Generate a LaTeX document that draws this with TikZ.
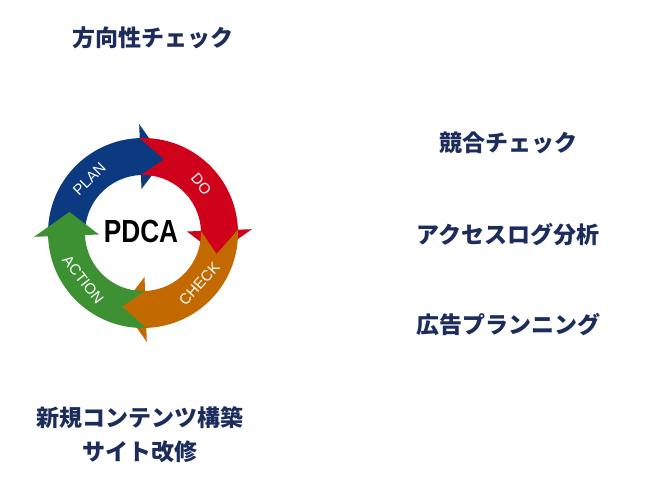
\documentclass[tikz,border=0pt]{standalone}
\usepackage{fontspec}
\setsansfont{Liberation Sans}
\newfontfamily\cjk{Noto Sans CJK JP}
\usetikzlibrary{positioning}
\definecolor{navy}{HTML}{1C2D5C}
\definecolor{planblue}{HTML}{0B3A80}
\definecolor{dored}{HTML}{D0021B}
\definecolor{checkorange}{HTML}{C26A00}
\definecolor{actgreen}{HTML}{3D9132}
% one arrow of the cycle: #1 colour, #2 start angle, #3 head angle
\newcommand{\cyclearrow}[3]{%
  \fill[#1] (#2:95) arc[start angle=#2, end angle=#3, radius=95]
    -- (#3:109) -- ({#3-18}:76.5) -- (#3:44) -- (#3:58)
    arc[start angle=#3, end angle=#2, radius=58] -- ({#2-18}:76.5) -- cycle;}
\begin{document}
\begin{tikzpicture}[
  x=1pt, y=1pt,
  topic/.style={font=\cjk\bfseries\fontsize{23}{34}\selectfont, text=navy, align=center},
  phase/.style={font=\sffamily\fontsize{15}{17}\selectfont, text=white, inner sep=0pt}
]
  \useasboundingbox (0,0) rectangle (648,478);
  %--- cycle
  \begin{scope}[shift={(143,245)}]
    \cyclearrow{planblue}{182}{92}
    \cyclearrow{dored}{92}{2}
    \cyclearrow{checkorange}{2}{-88}
    \cyclearrow{actgreen}{-88}{-178}
    \node[phase, rotate=45]  (plan)   at (135:76) {PLAN};
    \node[phase, rotate=-50] (do)     at (40:76)  {DO};
    \node[phase, rotate=48]  (check)  at (-42:76) {CHECK};
    \node[phase, rotate=-52] (action) at (-142:76) {ACTION};
    \node[font=\sffamily\bfseries\fontsize{32}{34}\selectfont, xscale=0.82] (pdca) at (-2,2) {PDCA};
  \end{scope}
  %--- topics
  \node[topic] (direction) at (153,440) {方向性チェック};
  \node[topic] (rival)     at (508,335) {競合チェック};
  \node[topic] (access)    at (508,243) {アクセスログ分析};
  \node[topic] (ads)       at (508,153) {広告プランニング};
  \node[topic] (content)   at (140,43)  {新規コンテンツ構築\\サイト改修};
\end{tikzpicture}
\end{document}
